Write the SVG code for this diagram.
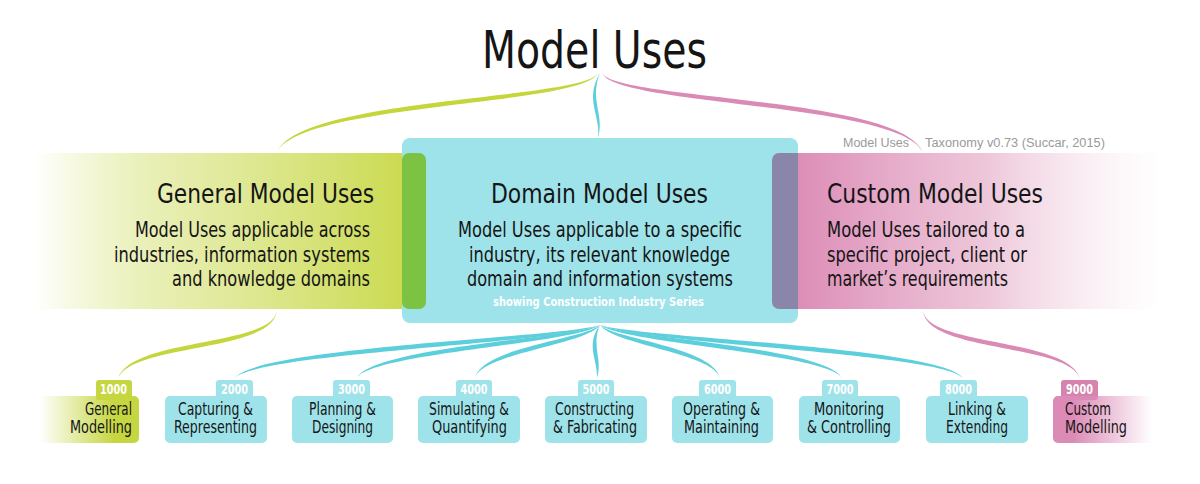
<svg xmlns="http://www.w3.org/2000/svg" width="1200" height="484" viewBox="0 0 1200 484">
<defs>
<linearGradient id="gBand" x1="0" y1="0" x2="426" y2="0" gradientUnits="userSpaceOnUse">
<stop offset="0.08" stop-color="#cfdd58" stop-opacity="0"/>
<stop offset="0.35" stop-color="#d6e27a" stop-opacity="0.55"/>
<stop offset="0.95" stop-color="#cbda50"/>
</linearGradient>
<linearGradient id="pBand" x1="772" y1="0" x2="1160" y2="0" gradientUnits="userSpaceOnUse">
<stop offset="0.05" stop-color="#dc8bb6"/>
<stop offset="0.55" stop-color="#e9b8d0" stop-opacity="0.8"/>
<stop offset="1" stop-color="#f3dbe7" stop-opacity="0"/>
</linearGradient>
<linearGradient id="gBox" x1="40" y1="0" x2="139" y2="0" gradientUnits="userSpaceOnUse">
<stop offset="0" stop-color="#c6d641" stop-opacity="0"/>
<stop offset="0.75" stop-color="#c6d641"/>
</linearGradient>
<linearGradient id="pBox" x1="1053" y1="0" x2="1152" y2="0" gradientUnits="userSpaceOnUse">
<stop offset="0.2" stop-color="#dc8bb6"/>
<stop offset="1" stop-color="#dc8bb6" stop-opacity="0"/>
</linearGradient>
<style>
.f{font-family:'DejaVu Sans Condensed','Liberation Sans Narrow',sans-serif;fill:#151515}
.title{font-size:52px}
.head{font-size:26px}
.desc{font-size:21.5px}
.sub{font-size:12.5px;font-weight:bold;fill:#ffffff}
.box{font-size:17.5px}
.tabt{font-size:14px;font-weight:bold;fill:#ffffff}
.gray{font-family:'Liberation Sans',Arial,sans-serif;font-size:12.5px;fill:#9a9a9a}
.blue{fill:#9fe3ea}
.green{fill:#c6d641}
.cb{fill:#5dcfdc}
.cg{fill:#c5d63d}
.cp{fill:#d98ab5}
</style>
</defs>

<g id="title">
<text class="f title" x="482" y="68" textLength="225" lengthAdjust="spacingAndGlyphs">Model Uses</text>
</g>

<g id="connectors">
<path class="cg" d="M598,73 C585,100 296,97 277,153 C296,103 585,106 598,73 Z"/>
<path class="cp" d="M602,73 C615,100 904,97 923,153 C904,103 615,106 602,73 Z"/>
<path class="cb" d="M600,73 C584,100 601,115 598,138 C605,115 589,100 600,73 Z"/>
<path class="cg" d="M277,309 C277,347 130,337 118,379 C130,343 277,353 277,309 Z"/>
<path class="cp" d="M923,309 C923,347 1070,337 1080,379 C1070,343 923,353 923,309 Z"/>
<path class="cb" d="M600,325 C560,338 257,347 235,378 C257,353 560,344 600,325 Z"/>
<path class="cb" d="M600,325 C574,338 372,347 357,378 C372,353 574,344 600,325 Z"/>
<path class="cb" d="M600,325 C586,339 482,347 475,378 C482,353 586,345 600,325 Z"/>
<path class="cb" d="M600,325 C585,345 598,360 597,378 C603,360 591,345 600,325 Z"/>
<path class="cb" d="M600,325 C614,339 713,347 720,378 C713,353 614,345 600,325 Z"/>
<path class="cb" d="M600,325 C626,338 827,347 842,378 C827,353 626,344 600,325 Z"/>
<path class="cb" d="M600,325 C640,338 941,347 963,378 C941,353 640,344 600,325 Z"/>
</g>

<g id="general">
<rect x="0" y="153" width="426" height="156" rx="7" fill="url(#gBand)"/>
</g>
<g id="custom">
<rect x="772" y="153" width="428" height="156" fill="url(#pBand)"/>
</g>
<g id="domain">
<rect class="blue" x="402" y="138" width="396" height="185" rx="8"/>
<rect x="402" y="153" width="24" height="156" rx="7" fill="#7cc243"/>
<path d="M779,153 H798 V309 H779 A7,7 0 0 1 772,302 V160 A7,7 0 0 1 779,153 Z" fill="#8a86a9"/>
<text class="f head" x="491" y="203" textLength="217" lengthAdjust="spacingAndGlyphs">Domain Model Uses</text>
<text class="f desc" x="458" y="237" textLength="284" lengthAdjust="spacingAndGlyphs">Model Uses applicable to a specific</text>
<text class="f desc" x="469" y="262" textLength="261" lengthAdjust="spacingAndGlyphs">industry, its relevant knowledge</text>
<text class="f desc" x="467" y="286" textLength="266" lengthAdjust="spacingAndGlyphs">domain and information systems</text>
<text class="f sub" x="493" y="306" textLength="211" lengthAdjust="spacingAndGlyphs">showing Construction Industry Series</text>
</g>
<g id="general-text">
<text class="f head" x="157" y="203" textLength="217" lengthAdjust="spacingAndGlyphs">General Model Uses</text>
<text class="f desc" x="135" y="237" textLength="235" lengthAdjust="spacingAndGlyphs">Model Uses applicable across</text>
<text class="f desc" x="114" y="262" textLength="256" lengthAdjust="spacingAndGlyphs">industries, information systems</text>
<text class="f desc" x="172" y="286" textLength="198" lengthAdjust="spacingAndGlyphs">and knowledge domains</text>
</g>
<g id="custom-text">
<text class="f head" x="827" y="203" textLength="216" lengthAdjust="spacingAndGlyphs">Custom Model Uses</text>
<text class="f desc" x="827" y="237" textLength="198" lengthAdjust="spacingAndGlyphs">Model Uses tailored to a</text>
<text class="f desc" x="827" y="262" textLength="200" lengthAdjust="spacingAndGlyphs">specific project, client or</text>
<text class="f desc" x="827" y="286" textLength="181" lengthAdjust="spacingAndGlyphs">market’s requirements</text>
</g>
<g id="credit">
<text class="gray" x="843" y="147" textLength="66" lengthAdjust="spacingAndGlyphs">Model Uses</text>
<text class="gray" x="925" y="147" textLength="180" lengthAdjust="spacingAndGlyphs">Taxonomy v0.73 (Succar, 2015)</text>
</g>

<g id="mu1000">
<rect class="green" x="96" y="380" width="36" height="20" rx="3"/>
<path d="M40,396 H134 A5,5 0 0 1 139,401 V438 A5,5 0 0 1 134,443 H40 Z" fill="url(#gBox)"/>
<text class="f tabt" x="100" y="394" textLength="27" lengthAdjust="spacingAndGlyphs">1000</text>
<text class="f box" x="85" y="415" textLength="47" lengthAdjust="spacingAndGlyphs">General</text>
<text class="f box" x="70" y="433" textLength="62" lengthAdjust="spacingAndGlyphs">Modelling</text>
</g>
<g id="mu2000">
<rect class="blue" x="216" y="380" width="37" height="20" rx="3"/>
<rect class="blue" x="165" y="396" width="102" height="47" rx="5"/>
<text class="f tabt" x="221" y="394" textLength="27" lengthAdjust="spacingAndGlyphs">2000</text>
<text class="f box" x="178" y="415" textLength="75" lengthAdjust="spacingAndGlyphs">Capturing &amp;</text>
<text class="f box" x="174" y="433" textLength="83" lengthAdjust="spacingAndGlyphs">Representing</text>
</g>
<g id="mu3000">
<rect class="blue" x="333" y="380" width="37" height="20" rx="3"/>
<rect class="blue" x="292" y="396" width="101" height="47" rx="5"/>
<text class="f tabt" x="338" y="394" textLength="27" lengthAdjust="spacingAndGlyphs">3000</text>
<text class="f box" x="309" y="415" textLength="67" lengthAdjust="spacingAndGlyphs">Planning &amp;</text>
<text class="f box" x="312" y="433" textLength="61" lengthAdjust="spacingAndGlyphs">Designing</text>
</g>
<g id="mu4000">
<rect class="blue" x="456" y="380" width="36" height="20" rx="3"/>
<rect class="blue" x="418" y="396" width="102" height="47" rx="5"/>
<text class="f tabt" x="460.5" y="394" textLength="27" lengthAdjust="spacingAndGlyphs">4000</text>
<text class="f box" x="429" y="415" textLength="80" lengthAdjust="spacingAndGlyphs">Simulating &amp;</text>
<text class="f box" x="432" y="433" textLength="75" lengthAdjust="spacingAndGlyphs">Quantifying</text>
</g>
<g id="mu5000">
<rect class="blue" x="578" y="380" width="36" height="20" rx="3"/>
<rect class="blue" x="545" y="396" width="102" height="47" rx="5"/>
<text class="f tabt" x="582.5" y="394" textLength="27" lengthAdjust="spacingAndGlyphs">5000</text>
<text class="f box" x="555" y="415" textLength="79" lengthAdjust="spacingAndGlyphs">Constructing</text>
<text class="f box" x="553" y="433" textLength="84" lengthAdjust="spacingAndGlyphs">&amp; Fabricating</text>
</g>
<g id="mu6000">
<rect class="blue" x="699" y="380" width="37" height="20" rx="3"/>
<rect class="blue" x="672" y="396" width="101" height="47" rx="5"/>
<text class="f tabt" x="704" y="394" textLength="27" lengthAdjust="spacingAndGlyphs">6000</text>
<text class="f box" x="683" y="415" textLength="77" lengthAdjust="spacingAndGlyphs">Operating &amp;</text>
<text class="f box" x="684" y="433" textLength="75" lengthAdjust="spacingAndGlyphs">Maintaining</text>
</g>
<g id="mu7000">
<rect class="blue" x="822" y="380" width="36" height="20" rx="3"/>
<rect class="blue" x="799" y="396" width="101" height="47" rx="5"/>
<text class="f tabt" x="826.5" y="394" textLength="27" lengthAdjust="spacingAndGlyphs">7000</text>
<text class="f box" x="814" y="415" textLength="70" lengthAdjust="spacingAndGlyphs">Monitoring</text>
<text class="f box" x="807" y="433" textLength="84" lengthAdjust="spacingAndGlyphs">&amp; Controlling</text>
</g>
<g id="mu8000">
<rect class="blue" x="940" y="380" width="37" height="20" rx="3"/>
<rect class="blue" x="926" y="396" width="102" height="47" rx="5"/>
<text class="f tabt" x="945" y="394" textLength="27" lengthAdjust="spacingAndGlyphs">8000</text>
<text class="f box" x="948" y="415" textLength="58" lengthAdjust="spacingAndGlyphs">Linking &amp;</text>
<text class="f box" x="946" y="433" textLength="62" lengthAdjust="spacingAndGlyphs">Extending</text>
</g>
<g id="mu9000">
<rect x="1061" y="380" width="37" height="20" rx="3" fill="#d683ae"/>
<path d="M1058,396 H1152 V443 H1058 A5,5 0 0 1 1053,438 V401 A5,5 0 0 1 1058,396 Z" fill="url(#pBox)"/>
<text class="f tabt" x="1066" y="394" textLength="27" lengthAdjust="spacingAndGlyphs">9000</text>
<text class="f box" x="1065" y="415" textLength="46" lengthAdjust="spacingAndGlyphs">Custom</text>
<text class="f box" x="1065" y="433" textLength="62" lengthAdjust="spacingAndGlyphs">Modelling</text>
</g>
</svg>
